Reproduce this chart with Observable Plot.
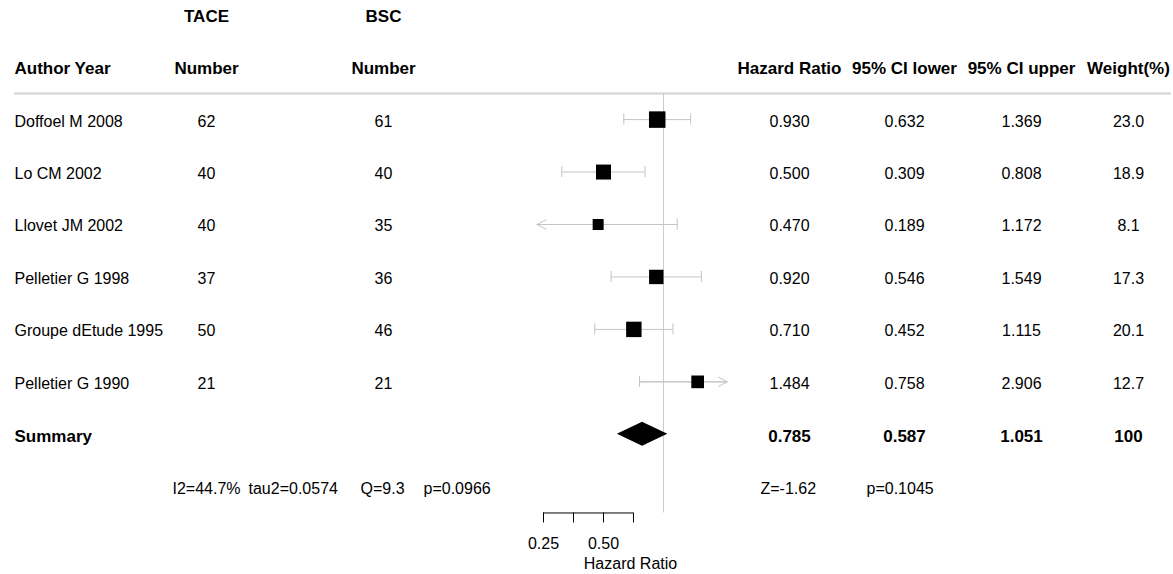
<!DOCTYPE html>
<html>
<head>
<meta charset="utf-8">
<script src="https://cdn.jsdelivr.net/npm/d3@7"></script>
<script src="https://cdn.jsdelivr.net/npm/@observablehq/plot@0.6"></script>
<style>
  html, body { margin: 0; padding: 0; background: #ffffff; }
  #chart { position: relative; width: 1173px; height: 574px; overflow: hidden; }
  #chart svg { position: absolute; left: 0; top: 0; }
</style>
</head>
<body>
<div id="chart"></div>
<script>
// ---------------- data ----------------
const studies   = ["Doffoel M 2008", "Lo CM 2002", "Llovet JM 2002", "Pelletier G 1998", "Groupe dEtude 1995", "Pelletier G 1990"];
const taceN     = [62, 40, 40, 37, 50, 21];
const bscN      = [61, 40, 35, 36, 46, 21];
const hazard    = [0.930, 0.500, 0.470, 0.920, 0.710, 1.484];
const ciLower   = [0.632, 0.309, 0.189, 0.546, 0.452, 0.758];
const ciUpper   = [1.369, 0.808, 1.172, 1.549, 1.115, 2.906];
const weightPct = [23.0, 18.9, 8.1, 17.3, 20.1, 12.7];

const summaryLabel  = "Summary";
const summaryHR     = 0.785;
const summaryLower  = 0.587;
const summaryUpper  = 1.051;
const summaryWeight = 100;

const groupHeaders  = ["TACE", "BSC"];
const columnHeaders = ["Author Year", "Number", "Number", "Hazard Ratio", "95% CI lower", "95% CI upper", "Weight(%)"];
const heterogeneity = ["I2=44.7%", "tau2=0.0574", "Q=9.3", "p=0.0966"];
const overallTest   = ["Z=-1.62", "p=0.1045"];

const axisTicks      = [0.25, 0.3536, 0.5, 0.7071];
const axisTickLabels = ["0.25", "", "0.50", ""];
const axisTitle      = "Hazard Ratio";
const clipRange      = [0.232, 2.09];

// ---------------- layout ----------------
const W = 1173, H = 574;
const FONT = '"Liberation Sans", Arial, Helvetica, sans-serif';
const REG = 16, BOLD = 17;
const rowStep = 52.45;
const textTop = 16, forestTop = 14.2;
const colX = {author: 14, tace: 206, bsc: 383, hr: 789, lower: 904, upper: 1021, weight: 1128, axisTitle: 630};
const hetX = [172, 248, 360, 423];
const testX = [760, 866];
const ciColor = "#c4c4c4";
const capHalf = 5.5 / rowStep;
const diamondHalf = 12 / rowStep;

const f3 = d3.format(".3f"), f1 = d3.format(".1f");

const rows = studies.map((s, i) => ({
  study: s, row: i + 2, tace: taceN[i], bsc: bscN[i],
  hr: hazard[i], lower: ciLower[i], upper: ciUpper[i], weight: weightPct[i]
}));
const summaryRow = rows.length + 2;
const statsRow = summaryRow + 1;

// ---------------- text cells ----------------
const midReg = [], midBold = [], leftReg = [], leftBold = [];
const headerKeys = ["author", "tace", "bsc", "hr", "lower", "upper", "weight"];
midBold.push({t: groupHeaders[0], x: colX.tace, row: 0}, {t: groupHeaders[1], x: colX.bsc, row: 0});
columnHeaders.forEach((h, i) => {
  if (i === 0) leftBold.push({t: h, x: colX.author, row: 1});
  else midBold.push({t: h, x: colX[headerKeys[i]], row: 1});
});
rows.forEach(d => {
  leftReg.push({t: d.study, x: colX.author, row: d.row});
  midReg.push({t: String(d.tace), x: colX.tace, row: d.row});
  midReg.push({t: String(d.bsc), x: colX.bsc, row: d.row});
  midReg.push({t: f3(d.hr), x: colX.hr, row: d.row});
  midReg.push({t: f3(d.lower), x: colX.lower, row: d.row});
  midReg.push({t: f3(d.upper), x: colX.upper, row: d.row});
  midReg.push({t: f1(d.weight), x: colX.weight, row: d.row});
});
leftBold.push({t: summaryLabel, x: colX.author, row: summaryRow});
midBold.push({t: f3(summaryHR), x: colX.hr, row: summaryRow});
midBold.push({t: f3(summaryLower), x: colX.lower, row: summaryRow});
midBold.push({t: f3(summaryUpper), x: colX.upper, row: summaryRow});
midBold.push({t: String(summaryWeight), x: colX.weight, row: summaryRow});
heterogeneity.forEach((t, i) => leftReg.push({t, x: hetX[i], row: statsRow}));
overallTest.forEach((t, i) => leftReg.push({t, x: testX[i], row: statsRow}));

// ---------------- forest layer ----------------
const [clipLo, clipHi] = clipRange;
const tickLabelOf = new Map(axisTicks.map((t, i) => [t, axisTickLabels[i]]));
const diamond = [
  {x: summaryLower, y1: summaryRow, y2: summaryRow},
  {x: summaryHR, y1: summaryRow - diamondHalf, y2: summaryRow + diamondHalf},
  {x: summaryUpper, y1: summaryRow, y2: summaryRow}
];
const lowC = d => Math.max(d.lower, clipLo);
const highC = d => Math.min(d.upper, clipHi);

const forest = Plot.plot({
  width: W, height: H,
  marginLeft: 14, marginRight: 2, marginTop: 0,
  marginBottom: H - (forestTop + (statsRow + 0.5) * rowStep),
  style: {fontFamily: FONT, fontSize: REG + "px", color: "#000", background: "#ffffff"},
  x: {type: "log", base: 2, domain: [0.25, 1], range: [543, 663]},
  y: {type: "linear", domain: [0, statsRow], range: [forestTop, forestTop + statsRow * rowStep], axis: null},
  r: {type: "linear", domain: [0, 23], range: [4.51, 9.31]},
  marks: [
    Plot.ruleY([1.5], {stroke: "#d3d3d3", strokeWidth: 2}),
    Plot.ruleX([1], {y1: 1.5, y2: statsRow + 0.5, stroke: "#cccccc", strokeWidth: 1}),
    Plot.ruleY(rows, {y: "row", x1: lowC, x2: highC, stroke: ciColor, strokeWidth: 1}),
    Plot.ruleX(rows.filter(d => d.lower >= clipLo), {x: "lower", y1: d => d.row - capHalf, y2: d => d.row + capHalf, stroke: ciColor}),
    Plot.ruleX(rows.filter(d => d.upper <= clipHi), {x: "upper", y1: d => d.row - capHalf, y2: d => d.row + capHalf, stroke: ciColor}),
    Plot.arrow(rows.filter(d => d.lower < clipLo), {x1: highC, x2: lowC, y1: "row", y2: "row", stroke: ciColor, strokeWidth: 1, headLength: 15, headAngle: 55}),
    Plot.arrow(rows.filter(d => d.upper > clipHi), {x1: lowC, x2: highC, y1: "row", y2: "row", stroke: ciColor, strokeWidth: 1, headLength: 15, headAngle: 55}),
    Plot.dot(rows, {x: "hr", y: "row", r: "weight", symbol: "square", fill: "#000"}),
    Plot.areaY(diamond, {x: "x", y1: "y1", y2: "y2", fill: "#000"}),
    Plot.ruleY([statsRow + 0.5], {x1: () => axisTicks[0], x2: () => axisTicks[axisTicks.length - 1], stroke: "#000"}),
    Plot.axisX(axisTicks, {tickSize: 10, tickPadding: 15, tickFormat: d => tickLabelOf.get(d) ?? "", label: null, stroke: "#000", fill: "#000", fontSize: REG})
  ]
});

// ---------------- text layer ----------------
const textCommon = {x: "x", y: "row", text: "t", fill: "#000"};
const table = Plot.plot({
  width: W, height: H,
  marginLeft: 0, marginRight: 0, marginTop: 0, marginBottom: 0,
  style: {fontFamily: FONT, fontSize: REG + "px", color: "#000", background: "transparent"},
  x: {type: "linear", domain: [0, W], range: [0, W], axis: null},
  y: {type: "linear", domain: [0, statsRow], range: [textTop, textTop + statsRow * rowStep], axis: null},
  marks: [
    Plot.text(leftReg, {...textCommon, textAnchor: "start", fontSize: REG}),
    Plot.text(midReg, {...textCommon, textAnchor: "middle", fontSize: REG}),
    Plot.text(leftBold, {...textCommon, textAnchor: "start", fontSize: BOLD, fontWeight: "bold"}),
    Plot.text(midBold, {...textCommon, textAnchor: "middle", fontSize: BOLD, fontWeight: "bold"}),
    Plot.text([axisTitle], {x: () => colX.axisTitle, frameAnchor: "bottom", lineAnchor: "middle", dy: -10.5, text: d => d, textAnchor: "middle", fontSize: REG, fill: "#000"})
  ]
});

const chart = document.getElementById("chart");
chart.appendChild(forest);
chart.appendChild(table);
</script>
</body>
</html>
